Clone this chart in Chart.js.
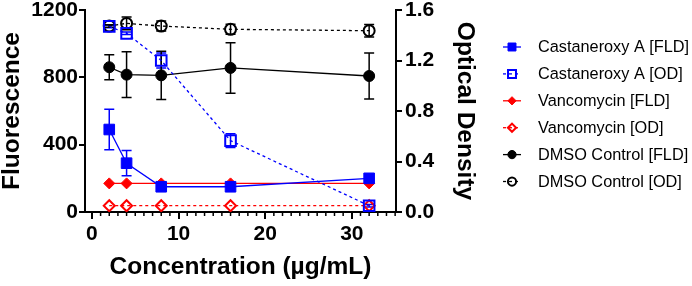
<!DOCTYPE html>
<html>
<head>
    <title>Castaneroxy A - Fluorescence and Optical Density</title>
    <script src="https://cdn.jsdelivr.net/npm/chart.js"></script>
    <style>
        body {
            margin: 0;
            background-color: #fff;
        }
        .chart-box {
            width: 692px;
            height: 286px;
        }
    </style>
</head>
<body>
    <div class="chart-box"><canvas id="doseChart"></canvas></div>

    <script>
        // concentrations (µg/mL)
        const concentrations = [2, 4, 8, 16, 32];

        // fluorescence (left axis) and optical density (right axis), with SD
        const castFld = [490, 290, 150, 150, 200];
        const castFldErr = [120, 75, 0, 0, 0];
        const castOd = [1.47, 1.415, 1.20, 0.565, 0.05];
        const castOdErr = [0.01, 0.01, 0.06, 0.055, 0.01];

        const vancoFld = [170, 170, 170, 170, 170];
        const vancoOd = [0.05, 0.05, 0.05, 0.05, 0.05];

        const dmsoFld = [860, 816, 812, 856, 808];
        const dmsoFldErr = [74, 136, 143, 150, 137];
        const dmsoOd = [1.473, 1.494, 1.473, 1.447, 1.436];
        const dmsoOdErr = [0.01, 0.05, 0.04, 0.04, 0.05];

        const xTicks = [0, 10, 20, 30];
        const fldTicks = [0, 400, 800, 1200];
        const odTicks = [0, 0.4, 0.8, 1.2, 1.6];

        const FONT = "'Liberation Sans', Arial, Helvetica, sans-serif";
        const BLUE = '#0000ff';
        const RED = '#ff0000';
        const BLACK = '#000000';

        function toPoints(values) {
            return values.map((v, i) => ({ x: concentrations[i], y: v }));
        }

        function series(label, values, errors, axis, color, style, open, dashed) {
            return {
                label: label,
                data: toPoints(values),
                errors: errors,
                yAxisID: axis,
                borderColor: color,
                borderWidth: 1.3,
                borderDash: dashed ? [3, 3] : [],
                backgroundColor: color,
                pointStyle: style,
                pointRadius: style === 'rect' ? 7.5 : 5.5,
                pointBorderWidth: open ? 2 : 1,
                pointBorderColor: color,
                pointBackgroundColor: open ? 'rgba(0,0,0,0)' : color,
                isOpen: open,
                tension: 0,
                fill: false
            };
        }

        // own marker drawing for the legend samples
        function drawMarker(ctx, ds, x, y, scale) {
            const r = ds.pointRadius * scale;
            ctx.save();
            ctx.beginPath();
            ctx.setLineDash([]);
            if (ds.pointStyle === 'rect') {
                const s = r * Math.SQRT1_2;
                ctx.rect(x - s, y - s, 2 * s, 2 * s);
            } else if (ds.pointStyle === 'rectRot') {
                ctx.moveTo(x - r, y);
                ctx.lineTo(x, y - r);
                ctx.lineTo(x + r, y);
                ctx.lineTo(x, y + r);
                ctx.closePath();
            } else {
                ctx.arc(x, y, r, 0, Math.PI * 2);
            }
            if (!ds.isOpen) {
                ctx.fillStyle = ds.borderColor;
                ctx.fill();
            }
            ctx.lineWidth = ds.pointBorderWidth;
            ctx.strokeStyle = ds.borderColor;
            ctx.stroke();
            ctx.restore();
        }

        const errorBars = {
            id: 'errorBars',
            beforeDatasetsDraw(chart) {
                const ctx = chart.ctx;
                const xs = chart.scales.x;
                chart.data.datasets.forEach(ds => {
                    if (!ds.errors) return;
                    const ys = chart.scales[ds.yAxisID];
                    ctx.save();
                    ctx.strokeStyle = ds.borderColor;
                    ctx.lineWidth = 1.5;
                    ds.data.forEach((p, i) => {
                        const e = ds.errors[i];
                        if (!e) return;
                        const px = xs.getPixelForValue(p.x);
                        const top = ys.getPixelForValue(p.y + e);
                        const bot = ys.getPixelForValue(p.y - e);
                        ctx.beginPath();
                        ctx.moveTo(px, top);
                        ctx.lineTo(px, bot);
                        ctx.moveTo(px - 5, top);
                        ctx.lineTo(px + 5, top);
                        ctx.moveTo(px - 5, bot);
                        ctx.lineTo(px + 5, bot);
                        ctx.stroke();
                    });
                    ctx.restore();
                });
            }
        };

        const extras = {
            id: 'extras',
            afterDraw(chart) {
                const ctx = chart.ctx;
                const xs = chart.scales.x;
                // minor ticks on the x axis
                ctx.save();
                ctx.strokeStyle = BLACK;
                ctx.lineWidth = 1.5;
                for (let v = 1; v <= 35; v++) {
                    if (v % 10 === 0) continue;
                    const px = xs.getPixelForValue(v);
                    ctx.beginPath();
                    ctx.moveTo(px, xs.top);
                    ctx.lineTo(px, xs.top + 4);
                    ctx.stroke();
                }
                ctx.restore();

                // legend with line + marker samples
                ctx.save();
                ctx.font = '16.3px ' + FONT;
                ctx.textBaseline = 'middle';
                chart.data.datasets.forEach((ds, i) => {
                    const y = 47 + i * 26.9;
                    ctx.beginPath();
                    ctx.strokeStyle = ds.borderColor;
                    ctx.lineWidth = ds.borderWidth;
                    ctx.setLineDash(ds.borderDash);
                    ctx.moveTo(503, y);
                    ctx.lineTo(521, y);
                    ctx.stroke();
                    drawMarker(ctx, ds, 512, y, 0.75);
                    ctx.fillStyle = BLACK;
                    ctx.fillText(ds.label, 538, y + 1);
                });
                ctx.restore();
            }
        };

        const tickFont = { family: FONT, size: 21, weight: 'bold' };
        const titleFont = { family: FONT, size: 24.5, weight: 'bold', lineHeight: 1 };

        // keep tick-label overflow from pushing the plot area down
        const noVPad = s => { s.paddingTop = 0; s.paddingBottom = 0; };

        new Chart(document.getElementById('doseChart'), {
            type: 'line',
            data: {
                datasets: [
                    series('Castaneroxy A [FLD]', castFld, castFldErr, 'y', BLUE, 'rect', false, false),
                    series('Castaneroxy A [OD]', castOd, castOdErr, 'y1', BLUE, 'rect', true, true),
                    series('Vancomycin [FLD]', vancoFld, null, 'y', RED, 'rectRot', false, false),
                    series('Vancomycin [OD]', vancoOd, null, 'y1', RED, 'rectRot', true, true),
                    series('DMSO Control [FLD]', dmsoFld, dmsoFldErr, 'y', BLACK, 'circle', false, false),
                    series('DMSO Control [OD]', dmsoOd, dmsoOdErr, 'y1', BLACK, 'circle', true, true)
                ]
            },
            options: {
                responsive: true,
                maintainAspectRatio: false,
                animation: false,
                layout: {
                    padding: { top: 10, right: 215, bottom: 7, left: 0 }
                },
                plugins: {
                    legend: { display: false },
                    tooltip: { enabled: false }
                },
                scales: {
                    x: {
                        type: 'linear',
                        min: -0.8,
                        max: 35.1,
                        afterBuildTicks: s => { s.ticks = xTicks.map(v => ({ value: v })); },
                        afterFit: s => { s.height = 67; },
                        grid: { drawOnChartArea: false, tickLength: 7, color: BLACK, lineWidth: 2 },
                        border: { color: BLACK, width: 2 },
                        ticks: { font: tickFont, color: BLACK, padding: 3, maxRotation: 0, callback: v => String(v) },
                        title: {
                            display: true,
                            text: 'Concentration (µg/mL)',
                            font: titleFont,
                            color: BLACK,
                            padding: 0
                        }
                    },
                    y: {
                        position: 'left',
                        min: 0,
                        max: 1200,
                        afterBuildTicks: s => { s.ticks = fldTicks.map(v => ({ value: v })); },
                        afterFit: s => { s.width = 85; noVPad(s); },
                        grid: { drawOnChartArea: false, tickLength: 6, color: BLACK, lineWidth: 2 },
                        border: { color: BLACK, width: 2 },
                        ticks: { font: tickFont, color: BLACK, padding: 1, callback: v => String(v) },
                        title: {
                            display: true,
                            text: 'Fluorescence',
                            font: titleFont,
                            color: BLACK,
                            padding: 0
                        }
                    },
                    y1: {
                        position: 'right',
                        min: 0,
                        max: 1.6,
                        afterBuildTicks: s => { s.ticks = odTicks.map(v => ({ value: v })); },
                        afterFit: s => { s.width = 81; noVPad(s); },
                        grid: { drawOnChartArea: false, tickLength: 6, color: BLACK, lineWidth: 2 },
                        border: { color: BLACK, width: 2 },
                        ticks: {
                            font: tickFont,
                            color: BLACK,
                            padding: 3,
                            callback: v => v.toFixed(1)
                        },
                        title: {
                            display: true,
                            text: 'Optical Density',
                            font: titleFont,
                            color: BLACK,
                            padding: 0
                        }
                    }
                }
            },
            plugins: [errorBars, extras]
        });
    </script>
</body>
</html>
